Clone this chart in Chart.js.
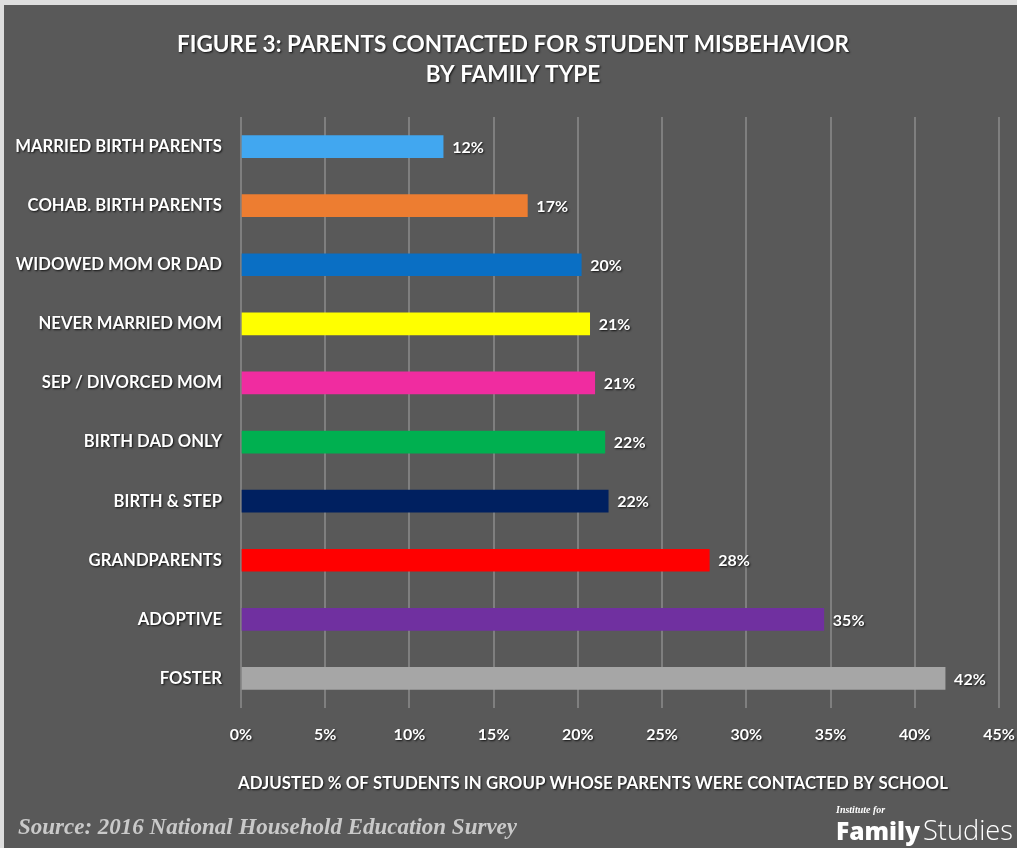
<!DOCTYPE html>
<html>
<head>
<meta charset="utf-8">
<script src="https://cdn.jsdelivr.net/npm/chart.js@4"></script>
<style>
  html, body { margin: 0; padding: 0; background: #dedede; width: 1017px; height: 848px; overflow: hidden; }
  #wrap { position: absolute; left: 4px; top: 5px; width: 1013px; height: 843px; background: #595959; }
  canvas { display: block; }
</style>
</head>
<body>
<div id="wrap"><canvas id="c" width="1013" height="843"></canvas></div>
<script>
const categories = [
  'MARRIED BIRTH PARENTS', 'COHAB. BIRTH PARENTS', 'WIDOWED MOM OR DAD', 'NEVER MARRIED MOM',
  'SEP / DIVORCED MOM', 'BIRTH DAD ONLY', 'BIRTH & STEP', 'GRANDPARENTS', 'ADOPTIVE', 'FOSTER'
];
const values = [12, 17, 20.2, 20.7, 21.0, 21.6, 21.8, 27.8, 34.6, 41.8];
const valueLabels = ['12%', '17%', '20%', '21%', '21%', '22%', '22%', '28%', '35%', '42%'];
const barColors = ['#41A7F0', '#ED7D31', '#0A6FC4', '#FFFF00', '#F02CA0', '#00B050', '#002060', '#FF0000', '#7030A0', '#A6A6A6'];
const xTickMin = 0, xTickMax = 45, xTickStep = 5;
const titleLines = ['FIGURE 3: PARENTS CONTACTED FOR STUDENT MISBEHAVIOR', 'BY FAMILY TYPE'];
const axisTitle = 'ADJUSTED % OF STUDENTS IN GROUP WHOSE PARENTS WERE CONTACTED BY SCHOOL';
const sourceText = 'Source: 2016 National Household Education Survey';

function setShadow(c) { c.shadowColor = 'rgba(0,0,0,0.8)'; c.shadowOffsetX = 1; c.shadowOffsetY = 1; c.shadowBlur = 2; }
function clearShadow(c) { c.shadowColor = 'rgba(0,0,0,0)'; c.shadowOffsetX = 0; c.shadowOffsetY = 0; c.shadowBlur = 0; }
function fitFont(c, text, style, family, targetWidth) {
  c.font = style + ' 20px ' + family;
  const size = 20 * targetWidth / c.measureText(text).width;
  c.font = style + ' ' + size.toFixed(2) + 'px ' + family;
}

const decorPlugin = {
  id: 'decor',
  afterDatasetsDraw(chart) { setShadow(chart.ctx); },
  afterDraw(chart) {
    const c = chart.ctx;
    c.save();
    setShadow(c);
    // data labels
    const meta = chart.getDatasetMeta(0);
    c.fillStyle = '#ffffff';
    c.font = '700 16px Lato';
    c.textAlign = 'left';
    c.textBaseline = 'middle';
    meta.data.forEach((bar, i) => { c.fillText(valueLabels[i], bar.x + 9, bar.y + 1); });
    // title
    c.font = '700 22.6px Lato';
    c.textAlign = 'center';
    c.fillText(titleLines[0], 509, 40);
    c.fillText(titleLines[1], 509, 70);
    // axis title
    fitFont(c, axisTitle, '700', 'Lato', 710);
    c.fillText(axisTitle, 589, 779);
    // source
    clearShadow(c);
    c.fillStyle = '#c9c9c9';
    c.textAlign = 'left';
    fitFont(c, sourceText, 'italic 700', '"Liberation Serif"', 499);
    c.fillText(sourceText, 14, 823);
    // logo
    c.fillStyle = '#ffffff';
    c.font = 'italic 700 10px "Liberation Serif"';
    c.fillText('Institute for', 832, 805);
    c.textBaseline = 'alphabetic';
    fitFont(c, 'Family', '800', '"Open Sans"', 84);
    c.fillText('Family', 832, 835);
    fitFont(c, 'Studies', '300', '"Open Sans"', 90);
    c.fillText('Studies', 919, 835);
    c.restore();
    clearShadow(c);
  }
};

new Chart(document.getElementById('c'), {
  type: 'bar',
  data: {
    labels: categories,
    datasets: [{ data: values, backgroundColor: barColors, barThickness: 22, borderWidth: 0 }]
  },
  options: {
    indexAxis: 'y',
    responsive: false,
    animation: false,
    layout: { padding: { top: 112, right: 18, bottom: 30, left: 0 } },
    plugins: { legend: { display: false }, tooltip: { enabled: false } },
    scales: {
      x: {
        min: xTickMin, max: xTickMax,
        grid: { color: '#7f7f7f', lineWidth: 2, drawTicks: false, z: -1 },
        border: { display: false },
        ticks: { stepSize: xTickStep, color: '#ffffff', font: { family: 'Lato', weight: '700', size: 16 }, padding: 17, z: 1,
                 callback: (v) => v + '%' },
        title: { display: false },
        afterFit: (s) => { s.height = 110; s.paddingLeft = 0; s.paddingRight = 0; }
      },
      y: {
        grid: { display: false, drawTicks: false },
        border: { display: false },
        ticks: { color: '#ffffff', font: { family: 'Lato', weight: '700', size: 16.7 }, padding: 19, z: 1 },
        afterFit: (s) => { s.width = 237; s.paddingTop = 0; s.paddingBottom = 0; }
      }
    }
  },
  plugins: [decorPlugin]
});
</script>
</body>
</html>
